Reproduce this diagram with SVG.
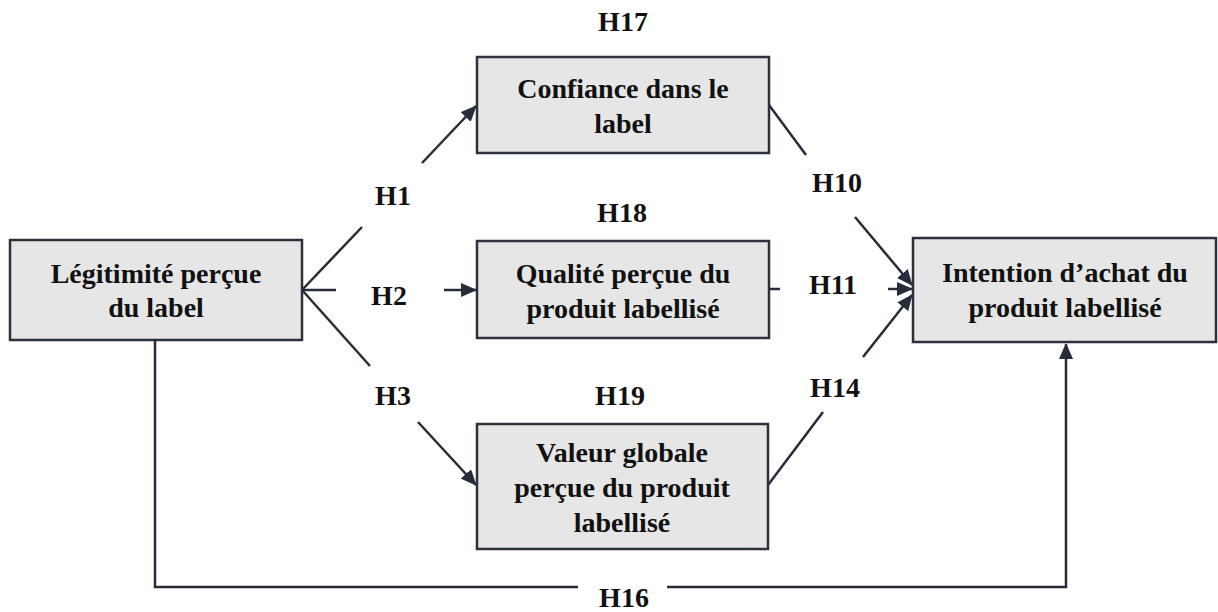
<svg xmlns="http://www.w3.org/2000/svg" width="1218" height="612" viewBox="0 0 1218 612">
<defs>
<style>
.box{fill:#e6e6e6;stroke:#2b323e;stroke-width:2.5}
.t{font-family:'Liberation Serif','DejaVu Serif',serif;font-weight:700;font-size:28px;fill:#111;text-anchor:middle}
.c{fill:none;stroke:#262d3a;stroke-width:2.5}
</style>
<marker id="ah" viewBox="0 0 16 14" refX="15" refY="7" markerWidth="16" markerHeight="14" markerUnits="userSpaceOnUse" orient="auto">
<path d="M0,0 L16,7 L0,14 Z" fill="#262d3a"/>
</marker>
</defs>
<rect width="1218" height="612" fill="#fff"/>
<g id="connectors">
<line class="c" x1="302" y1="290" x2="362" y2="227"/>
<line class="c" x1="422" y1="163" x2="476" y2="106" marker-end="url(#ah)"/>
<line class="c" x1="302" y1="290" x2="336" y2="290"/>
<line class="c" x1="444" y1="290" x2="476" y2="290" marker-end="url(#ah)"/>
<line class="c" x1="302" y1="290" x2="370" y2="366"/>
<line class="c" x1="418" y1="422" x2="476" y2="485" marker-end="url(#ah)"/>
<line class="c" x1="769" y1="105" x2="806" y2="155"/>
<line class="c" x1="855" y1="217" x2="912" y2="285" marker-end="url(#ah)"/>
<line class="c" x1="769" y1="289" x2="780" y2="289"/>
<line class="c" x1="888" y1="289" x2="912" y2="289" marker-end="url(#ah)"/>
<line class="c" x1="768" y1="485" x2="823" y2="412"/>
<line class="c" x1="863" y1="357" x2="912" y2="295" marker-end="url(#ah)"/>
<polyline class="c" points="155,340 155,587 578,587"/>
<polyline class="c" points="667,587 1066,587 1066,344" marker-end="url(#ah)"/>
</g>
<g id="labels" font-family="Liberation Serif, serif">
<text class="t" x="623" y="31">H17</text>
<text class="t" x="393" y="205">H1</text>
<text class="t" x="622" y="222">H18</text>
<text class="t" x="389" y="305">H2</text>
<text class="t" x="393" y="405">H3</text>
<text class="t" x="620" y="405">H19</text>
<text class="t" x="837" y="192">H10</text>
<text class="t" x="833" y="294">H11</text>
<text class="t" x="835" y="397">H14</text>
<text class="t" x="624" y="607">H16</text>
</g>
<g id="n_legitimite">
<rect class="box" x="10" y="240" width="292" height="100"/>
<text class="t" x="156" y="283">Légitimité perçue</text>
<text class="t" x="156" y="317">du label</text>
</g>
<g id="n_confiance">
<rect class="box" x="477" y="57" width="292" height="96"/>
<text class="t" x="623" y="98">Confiance dans le</text>
<text class="t" x="623" y="133">label</text>
</g>
<g id="n_qualite">
<rect class="box" x="477" y="241" width="292" height="97"/>
<text class="t" x="623" y="283">Qualité perçue du</text>
<text class="t" x="623" y="318">produit labellisé</text>
</g>
<g id="n_valeur">
<rect class="box" x="477" y="424" width="291" height="125"/>
<text class="t" x="622" y="462">Valeur globale</text>
<text class="t" x="622" y="497">perçue du produit</text>
<text class="t" x="622" y="532">labellisé</text>
</g>
<g id="n_intention">
<rect class="box" x="913" y="238" width="303" height="104"/>
<text class="t" x="1065" y="282">Intention d’achat du</text>
<text class="t" x="1065" y="317">produit labellisé</text>
</g>
</svg>
